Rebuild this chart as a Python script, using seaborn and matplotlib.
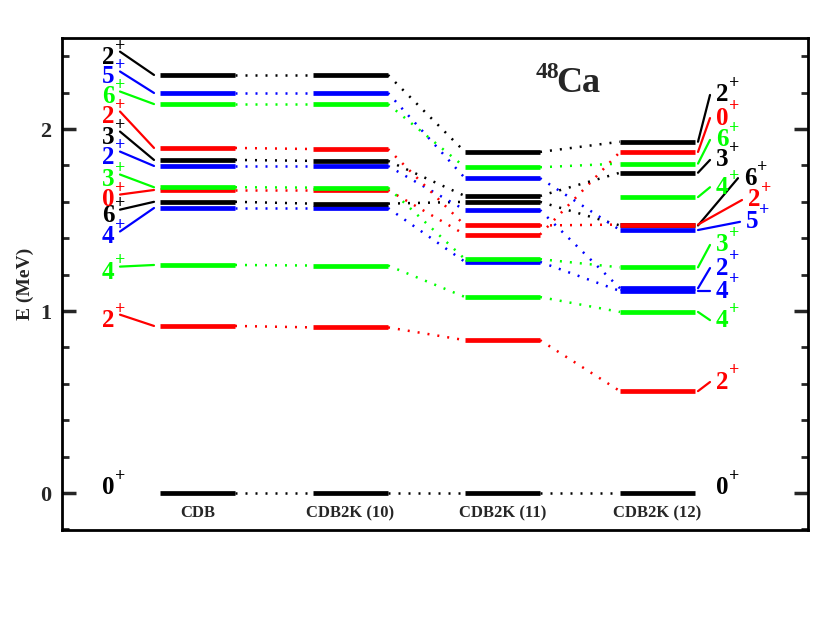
import numpy as np
import pandas as pd
import matplotlib
matplotlib.use("Agg")
import matplotlib.pyplot as plt
import seaborn as sns

# level energies (MeV) per calculation, one entry per state
columns = ["CDB", "CDB2K (10)", "CDB2K (11)", "CDB2K (12)"]
state_labels = ["0", "2", "4", "4", "6", "0", "3", "2", "3", "2", "6", "5", "2", "4"]
state_colors = ["black", "red", "lime", "blue", "black", "red", "lime", "blue",
                "black", "red", "lime", "blue", "black", "lime"]
e_cdb = [0.0, 0.918, 1.253, 1.566, 1.600, 1.665, 1.680, 1.797, 1.830, 1.896, 2.137, 2.198, 2.297, np.nan]
e_cdb2k10 = [0.0, 0.910, 1.250, 1.566, 1.590, 1.665, 1.678, 1.797, 1.825, 1.890, 2.137, 2.198, 2.297, np.nan]
e_cdb2k11 = [0.0, 0.840, 1.077, 1.270, 1.600, 1.420, 1.285, 1.555, 1.632, 1.470, 1.790, 1.730, 1.874, np.nan]
e_cdb2k12 = [0.0, 0.560, 0.995, 1.110, 1.470, 1.874, 1.240, 1.125, 1.760, 1.475, 1.810, 1.445, 1.930, 1.626]

# label anchor energies / offsets (layout)
left_label_y = [0.03, 0.95, 1.214, 1.407, 1.527, 1.61, 1.72, 1.846, 1.956, 2.066, 2.176, 2.286, 2.395, np.nan]
right_label_y = [0.03, 0.61, 0.95, 1.11, 1.73, 2.06, 1.363, 1.236, 1.83, 1.61, 1.94, 1.49, 2.187, 1.68]
right_label_x = [660, 660, 660, 660, 688, 660, 660, 660, 660, 692, 660, 690, 660, 660]

energies = [e_cdb, e_cdb2k10, e_cdb2k11, e_cdb2k12]
col_x0 = [98, 251, 403, 558]
col_w = 75

sns.set_theme(style="white")
plt.rcParams["font.family"] = "Liberation Serif"
plt.rcParams["font.weight"] = "bold"

fig = plt.figure(figsize=(8.17, 6.43), dpi=100)
ax = fig.add_axes([62 / 817, 113 / 643, 746 / 817, 492 / 643])
ax.set_xlim(0, 746)
ax.set_ylim(-0.203, 2.5)


def spin_label(x, y, txt, c):
    ax.text(x, y, txt, color=c, fontsize=18, ha="center", va="center", fontweight="bold")
    ax.annotate("+", (x, y), xytext=(9, 8), textcoords="offset points", color=c,
                fontsize=13, ha="center", va="center", fontweight="bold")


for i in range(len(state_labels)):
    c = state_colors[i]
    for k, es in enumerate(energies):
        e = es[i]
        if np.isnan(e):
            continue
        ax.plot([col_x0[k], col_x0[k] + col_w], [e, e], color=c, lw=3.4, solid_capstyle="butt", zorder=3)
        if k < 3 and not np.isnan(energies[k + 1][i]):
            ax.plot([col_x0[k] + col_w, col_x0[k + 1]], [e, energies[k + 1][i]],
                    color=c, lw=1.8, ls=(0, (0.8, 3.2)), zorder=2)
    if not np.isnan(e_cdb[i]):
        ly = left_label_y[i]
        spin_label(46, ly, state_labels[i], c)
        if i > 0:
            ax.plot([58, 92], [ly + 0.03, e_cdb[i]], color=c, lw=1.6)
    rx, ry = right_label_x[i], right_label_y[i]
    spin_label(rx, ry, state_labels[i], c)
    if i > 0:
        ax.plot([636, rx - 12], [e_cdb2k12[i], ry], color=c, lw=1.6)

for k, name in enumerate(columns):
    ax.text(col_x0[k] + col_w / 2, -0.11, name, ha="center", va="center", fontsize=12, fontweight="bold")

ax.text(516, 2.25, "Ca", fontsize=26, fontweight="bold", ha="center", va="center")
ax.text(485, 2.31, "48", fontsize=17, fontweight="bold", ha="center", va="center")

ax.set_yticks([0, 1, 2])
ax.set_yticklabels(["0", "1", "2"], fontsize=16, fontweight="bold")
ax.set_yticks(np.arange(-0.2, 2.5, 0.2), minor=True)
ax.set_xticks([])
ax.tick_params(axis="y", which="major", direction="in", length=10, width=2.5, left=True, right=True, pad=8)
ax.tick_params(axis="y", which="minor", direction="in", length=5, width=2, left=True, right=True)
ax.set_ylabel("E (MeV)", fontsize=14, fontweight="bold")
for s in ax.spines.values():
    s.set_linewidth(2)
    s.set_color("black")

fig.savefig("out.png", dpi=100)
